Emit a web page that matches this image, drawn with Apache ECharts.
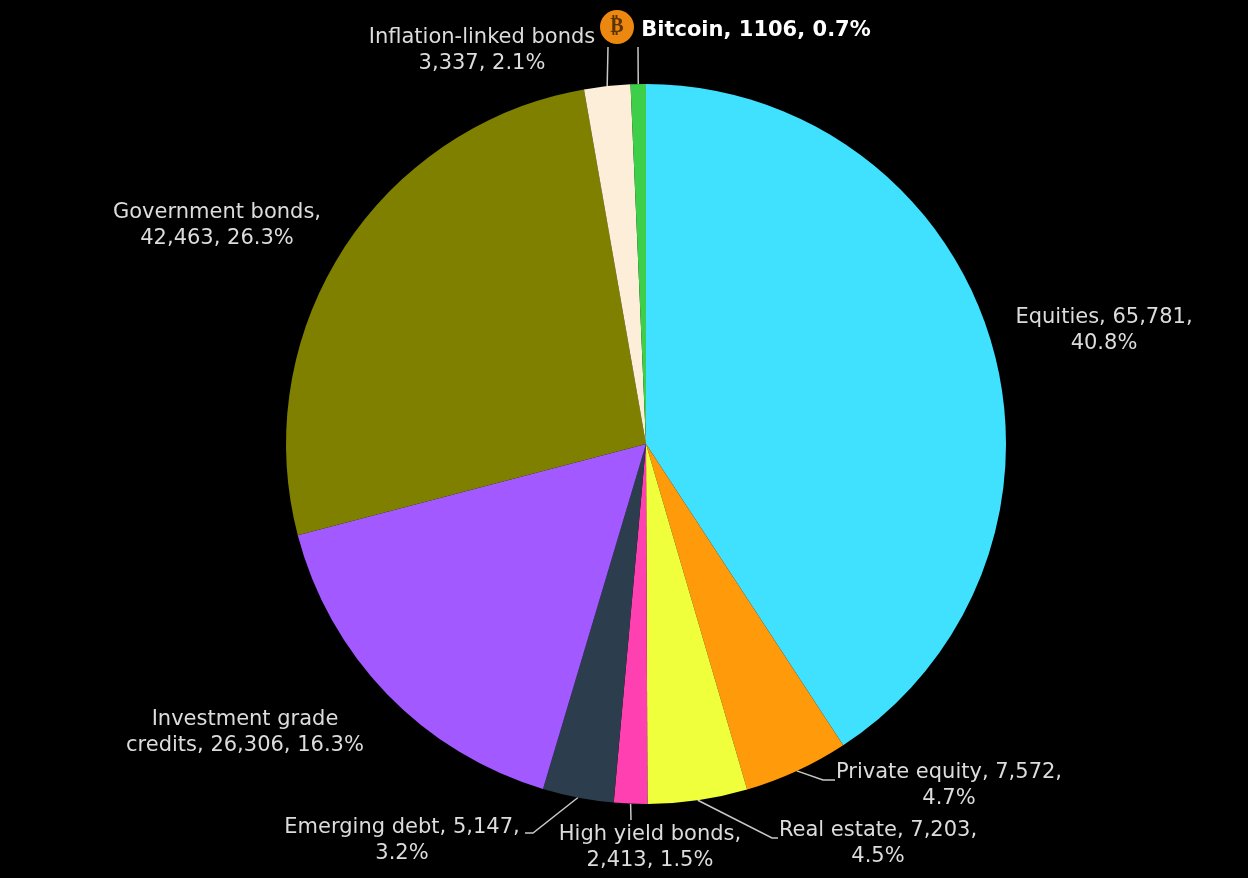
<!DOCTYPE html>
<html>
<head>
<meta charset="utf-8">
<style>html,body{margin:0;padding:0;background:#000}#c{width:1248px;height:878px}</style>
<script src="https://cdn.jsdelivr.net/npm/echarts@6/dist/echarts.min.js"></script>
</head>
<body>
<div id="c"></div>
<script>
const categories = ['Equities','Private equity','Real estate','High yield bonds','Emerging debt','Investment grade credits','Government bonds','Inflation-linked bonds','Bitcoin'];
const values = [65781,7572,7203,2413,5147,26306,42463,3337,1106];
const labelTexts = [
  'Equities, 65,781,\n40.8%',
  'Private equity, 7,572,\n4.7%',
  'Real estate, 7,203,\n4.5%',
  'High yield bonds,\n2,413, 1.5%',
  'Emerging debt, 5,147,\n3.2%',
  'Investment grade\ncredits, 26,306, 16.3%',
  'Government bonds,\n42,463, 26.3%',
  'Inflation-linked bonds\n3,337, 2.1%',
  'Bitcoin, 1106, 0.7%'
];
const colors = ['#40e0ff','#ff9a0a','#f0ff3c','#ff40b0','#2c3e4e','#a259ff','#7f7f00','#fdeed9','#3ecf4a'];
// label centres and the rest of each leader line, in page pixels
const labelAt = [[1104,331],[949,786],[878,844],[650,848],[402,841],[245,733],[217,226],[482,51],[756,31]];
const leaderRest = [null,[[823,780],[835,780]],[[772,838],[778,838]],[[631,820]],[[533,833],[525,833]],null,null,[[608,47]],[[638,47]]];

const chart = echarts.init(document.getElementById('c'), null, {renderer:'canvas'});
chart.setOption({
  backgroundColor:'#000',
  animation:false,
  graphic:[
    {type:'circle',shape:{cx:617,cy:27,r:17},style:{fill:'#ec8810'},z:10},
    {type:'text',x:617,y:27,style:{text:'\u20BF',fill:'#5a3400',font:'bold 20px "DejaVu Sans"',align:'center',verticalAlign:'middle'},z:11}
  ],
  series:[{
    type:'pie',
    center:[646,444],
    radius:[0,360],
    startAngle:90,
    clockwise:true,
    minAngle:0,
    avoidLabelOverlap:false,
    itemStyle:{borderWidth:0},
    label:{show:true,color:'#dcdcdc',fontFamily:'"DejaVu Sans"',fontSize:21,lineHeight:26,align:'center',
      formatter:p=>labelTexts[p.dataIndex]},
    labelLine:{show:true,length:10,length2:10,smooth:false,lineStyle:{color:'#c8c8c8',width:1.5}},
    labelLayout:function(p){
      const i=p.dataIndex, rest=leaderRest[i];
      const out={x:labelAt[i][0],y:labelAt[i][1],align:'center',verticalAlign:'middle',hideOverlap:false};
      if(rest&&p.labelLinePoints){out.labelLinePoints=[p.labelLinePoints[0]].concat(rest);}
      return out;
    },
    data:categories.map((n,i)=>({
      name:n,value:values[i],
      itemStyle:{color:colors[i]},
      labelLine:{show:!!leaderRest[i]},
      label:i===8?{fontWeight:'bold',color:'#ffffff'}:undefined
    }))
  }]
});
</script>
</body>
</html>
